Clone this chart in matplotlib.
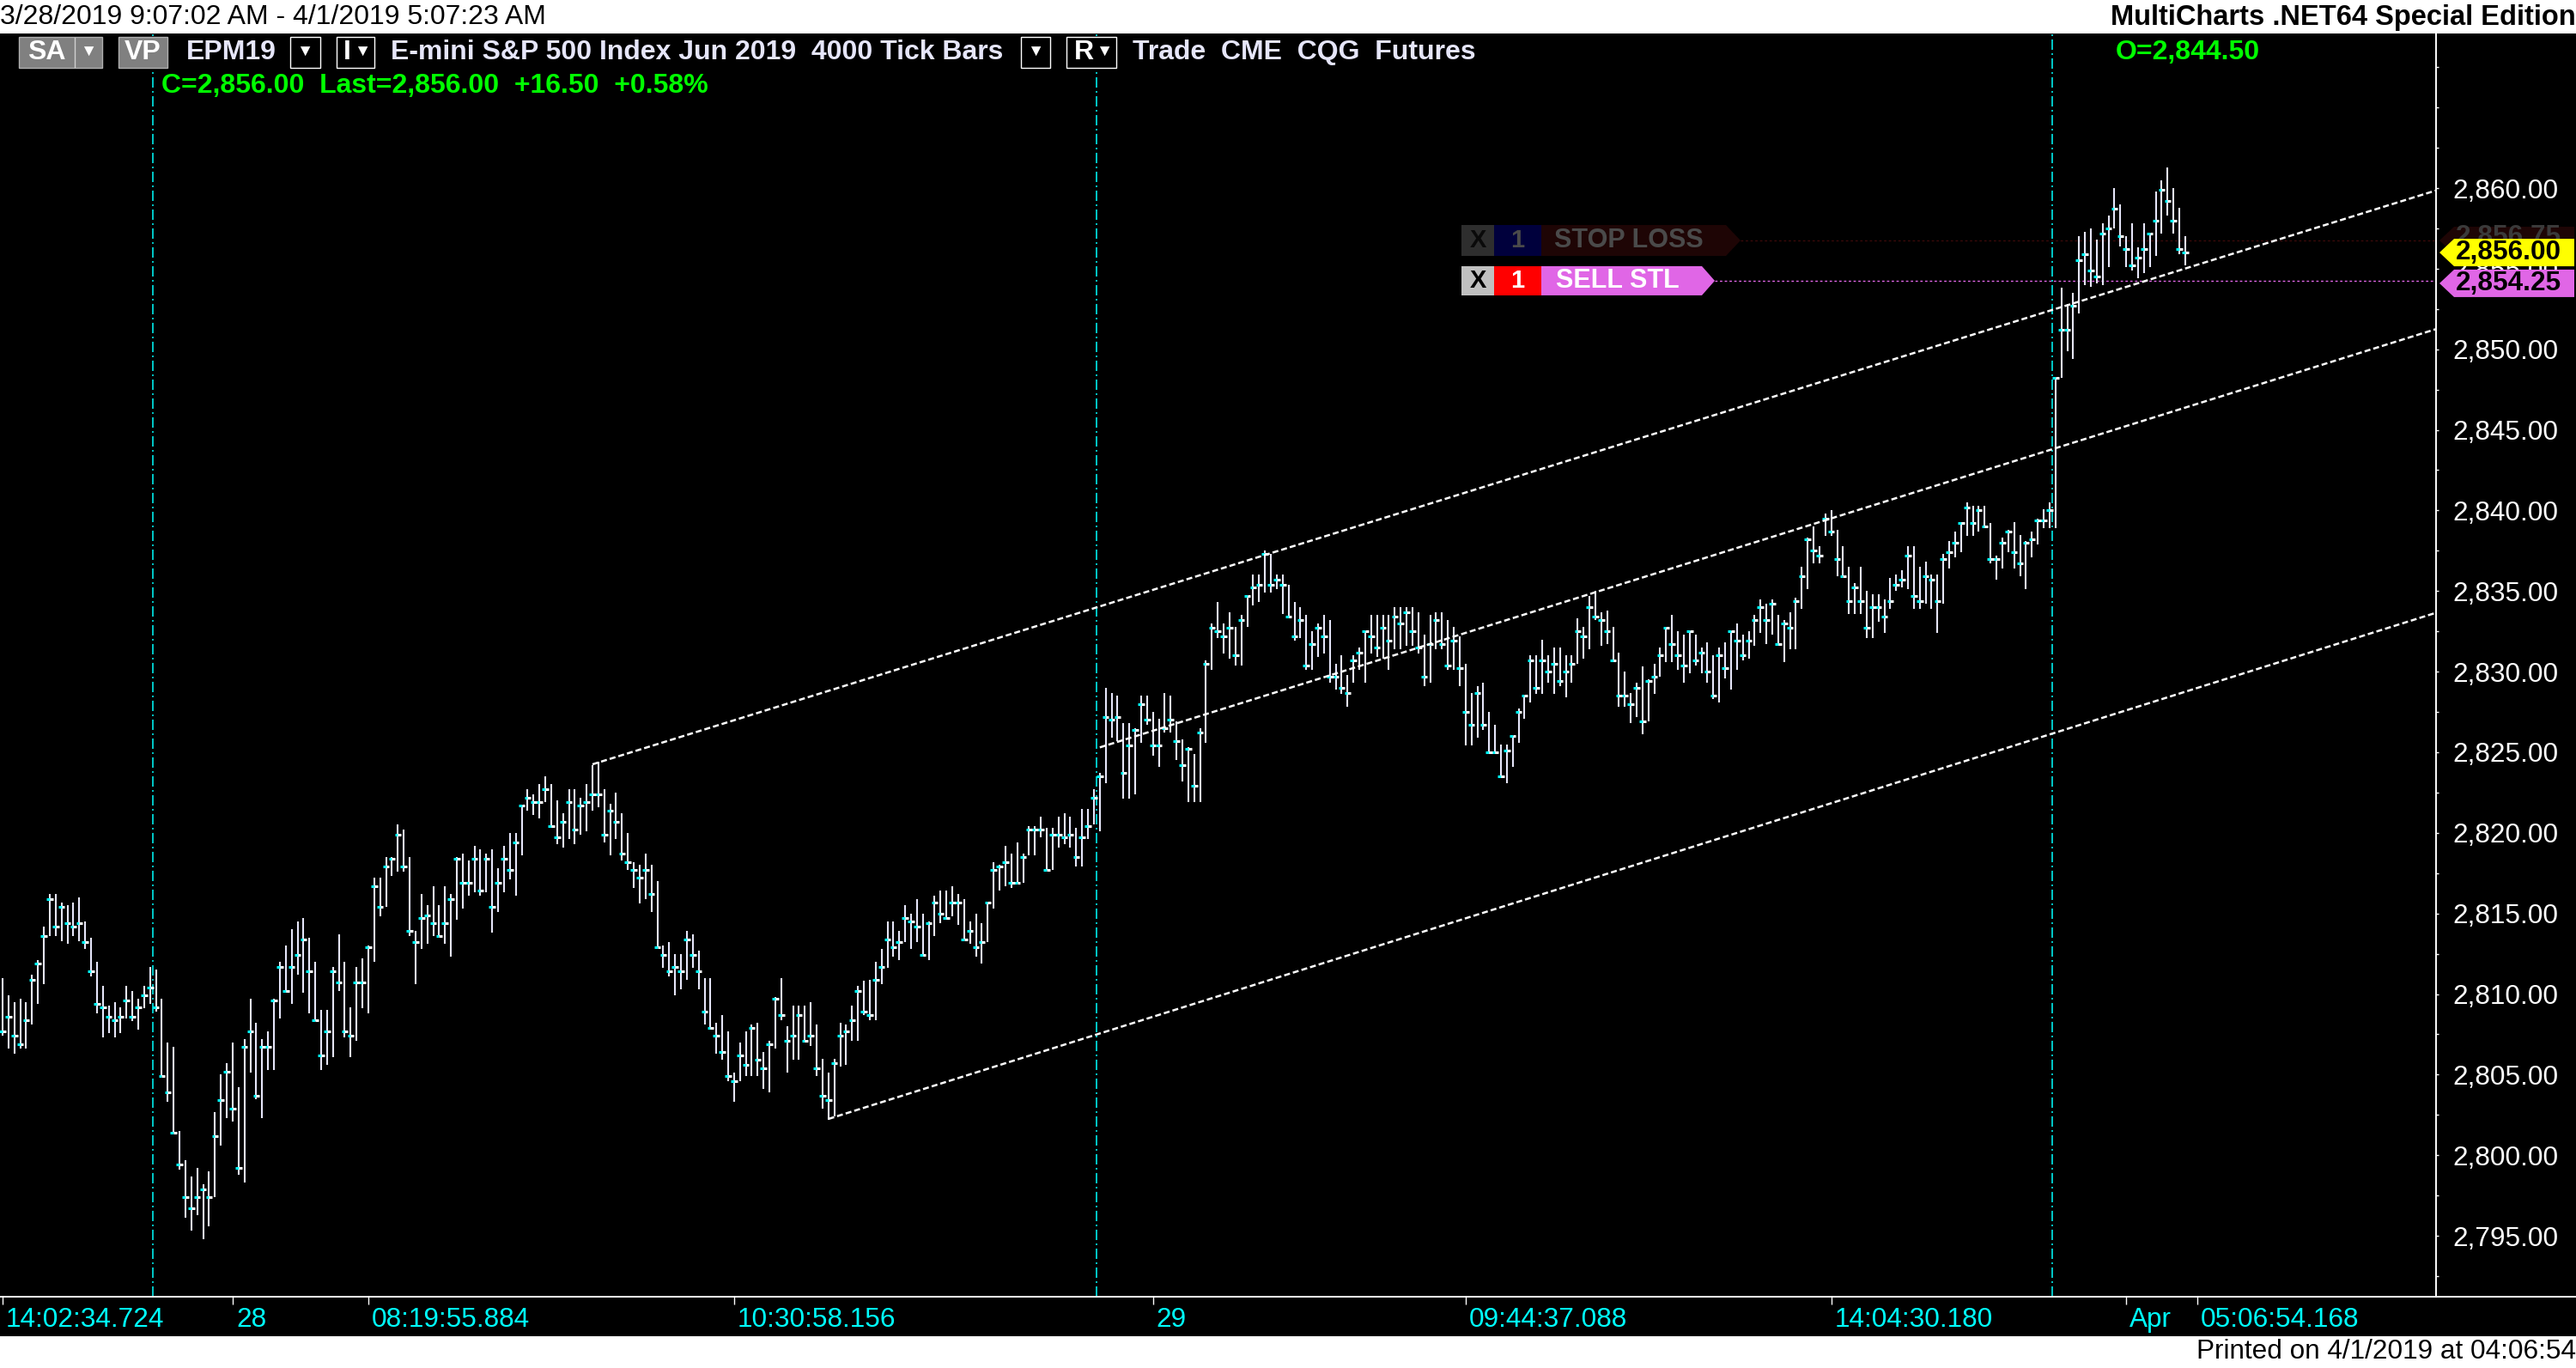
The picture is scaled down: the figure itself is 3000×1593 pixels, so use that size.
import numpy as np
import matplotlib
matplotlib.use("Agg")
import matplotlib.pyplot as plt
import matplotlib.transforms as mtransforms
from matplotlib.patches import Polygon, Rectangle
from matplotlib.lines import Line2D
from matplotlib.ticker import MultipleLocator, FixedLocator, FuncFormatter

# ---- EPM19, 4000 tick bars (high / low / close) ----
highs = [
    2811.0, 2809.9, 2809.5, 2809.7, 2809.5, 2811.2, 2812.1, 2814.2, 2816.2, 2816.2,
    2815.7, 2815.5, 2815.7, 2816.0, 2814.5, 2813.5, 2812.0, 2810.5, 2809.3, 2809.5,
    2809.2, 2810.5, 2810.2, 2809.7, 2810.5, 2811.7, 2811.5, 2809.7, 2807.0, 2806.7,
    2801.5, 2799.7, 2798.7, 2799.2, 2798.2, 2799.0, 2802.7, 2805.0, 2805.7, 2807.0,
    2804.2, 2807.2, 2809.7, 2808.2, 2807.2, 2807.7, 2809.7, 2812.0, 2813.0, 2814.0,
    2814.5, 2814.7, 2813.5, 2812.0, 2809.0, 2809.0, 2811.7, 2813.7, 2812.0, 2809.2,
    2811.7, 2812.2, 2813.0, 2817.2, 2817.2, 2818.5, 2818.5, 2820.5, 2820.2, 2818.5,
    2813.9, 2816.2, 2815.5, 2816.7, 2815.5, 2816.7, 2816.2, 2818.5, 2818.7, 2818.3,
    2819.2, 2819.0, 2818.7, 2819.0, 2817.8, 2819.2, 2820.0, 2820.0, 2821.7, 2822.7,
    2822.4, 2823.0, 2823.5, 2823.0, 2822.0, 2821.2, 2822.7, 2822.7, 2822.2, 2823.0,
    2824.2, 2824.4, 2822.7, 2821.8, 2822.5, 2821.2, 2820.0, 2818.2, 2818.0, 2818.7,
    2818.0, 2817.0, 2813.0, 2813.2, 2812.5, 2812.5, 2813.9, 2813.7, 2812.7, 2811.0,
    2811.0, 2808.2, 2808.7, 2807.7, 2805.1, 2807.0, 2807.7, 2808.1, 2808.2, 2806.4,
    2807.1, 2809.8, 2811.0, 2808.0, 2809.3, 2809.3, 2809.3, 2809.5, 2808.1, 2806.0,
    2805.1, 2806.0, 2808.2, 2808.1, 2809.3, 2810.5, 2810.8, 2810.9, 2812.0, 2812.8,
    2814.5, 2814.5, 2813.9, 2815.5, 2815.0, 2815.9, 2815.0, 2814.5, 2816.1, 2816.4,
    2816.4, 2816.7, 2816.2, 2815.9, 2814.5, 2815.0, 2814.4, 2815.7, 2818.2, 2818.0,
    2819.2, 2818.7, 2819.4, 2818.7, 2820.4, 2820.4, 2821.0, 2820.3, 2820.3, 2821.0,
    2821.2, 2821.0, 2820.3, 2821.5, 2821.5, 2822.7, 2823.7, 2829.0, 2828.7, 2828.5,
    2826.8, 2826.8, 2826.5, 2828.5, 2828.5, 2827.5, 2827.1, 2828.7, 2828.5, 2826.9,
    2825.8, 2825.3, 2824.9, 2826.5, 2830.7, 2833.0, 2834.3, 2833.0, 2833.7, 2832.8,
    2833.5, 2834.7, 2836.0, 2836.0, 2837.5, 2837.3, 2836.0, 2836.0, 2835.4, 2834.3,
    2834.0, 2833.5, 2832.5, 2833.0, 2833.5, 2833.2, 2830.5, 2831.0, 2829.8, 2831.0,
    2831.5, 2832.5, 2833.5, 2833.5, 2833.5, 2833.5, 2834.0, 2834.0, 2834.0, 2834.0,
    2833.7, 2832.3, 2833.5, 2833.7, 2833.7, 2833.2, 2832.8, 2832.2, 2830.5, 2828.7,
    2829.1, 2829.3, 2827.5, 2826.7, 2825.5, 2825.5, 2826.0, 2827.7, 2828.5, 2831.0,
    2831.0, 2832.0, 2831.0, 2831.5, 2831.5, 2831.0, 2831.0, 2833.3, 2832.8, 2834.7,
    2835.0, 2833.7, 2833.8, 2832.8, 2831.2, 2830.0, 2828.7, 2829.3, 2830.3, 2829.5,
    2830.5, 2831.5, 2832.7, 2833.5, 2832.5, 2832.3, 2832.5, 2832.3, 2831.5, 2831.8,
    2831.0, 2831.5, 2831.8, 2832.5, 2833.0, 2832.3, 2832.5, 2833.5, 2834.5, 2834.2,
    2834.5, 2833.5, 2833.2, 2833.7, 2834.6, 2836.5, 2838.3, 2839.0, 2837.8, 2839.8,
    2840.0, 2838.8, 2837.8, 2836.5, 2835.5, 2836.5, 2835.0, 2834.8, 2834.8, 2834.5,
    2835.8, 2836.0, 2836.3, 2837.8, 2837.8, 2836.5, 2836.8, 2836.0, 2836.0, 2837.3,
    2838.1, 2838.7, 2839.3, 2840.5, 2840.3, 2840.3, 2840.3, 2839.2, 2837.2, 2838.3,
    2838.8, 2839.3, 2838.5, 2838.1, 2838.7, 2839.5, 2840.1, 2840.5, 2848.2, 2853.8,
    2852.8, 2853.5, 2857.0, 2857.3, 2857.5, 2856.8, 2857.8, 2858.3, 2860.0, 2859.0,
    2857.0, 2857.8, 2856.3, 2857.8, 2857.2, 2859.8, 2860.5, 2861.3, 2860.0, 2858.8,
    2857.0,
]
lows = [
    2807.4, 2806.6, 2806.3, 2806.6, 2806.6, 2808.1, 2809.4, 2810.6, 2813.6, 2813.6,
    2813.3, 2813.1, 2813.6, 2813.3, 2812.8, 2811.1, 2808.8, 2807.3, 2807.6, 2807.3,
    2807.6, 2808.5, 2808.3, 2807.8, 2809.1, 2809.4, 2808.9, 2804.9, 2803.3, 2801.4,
    2799.1, 2796.1, 2795.3, 2796.3, 2794.8, 2795.6, 2797.4, 2800.6, 2802.3, 2802.1,
    2798.8, 2798.3, 2805.1, 2803.5, 2802.3, 2805.3, 2805.3, 2808.5, 2810.1, 2809.4,
    2811.2, 2810.1, 2808.8, 2808.3, 2805.3, 2805.6, 2806.1, 2810.2, 2807.3, 2806.1,
    2807.1, 2809.1, 2808.8, 2812.0, 2814.8, 2815.4, 2817.3, 2817.6, 2817.6, 2813.6,
    2810.6, 2812.8, 2813.1, 2813.6, 2813.6, 2813.1, 2812.3, 2814.6, 2815.3, 2816.1,
    2816.3, 2816.1, 2816.3, 2813.8, 2815.1, 2816.3, 2817.1, 2816.1, 2818.6, 2821.4,
    2821.1, 2820.9, 2821.9, 2820.3, 2819.3, 2819.1, 2819.6, 2819.3, 2819.9, 2820.1,
    2821.4, 2821.6, 2819.4, 2818.6, 2819.6, 2818.3, 2817.7, 2816.6, 2815.6, 2815.9,
    2815.1, 2812.9, 2811.6, 2811.1, 2809.9, 2810.3, 2810.9, 2811.6, 2810.3, 2808.1,
    2807.8, 2806.3, 2805.9, 2804.6, 2803.3, 2804.6, 2804.9, 2804.9, 2804.9, 2804.1,
    2803.9, 2806.6, 2808.4, 2805.1, 2805.9, 2805.9, 2807.0, 2806.8, 2804.9, 2802.9,
    2802.2, 2802.4, 2805.5, 2805.6, 2807.1, 2807.1, 2808.7, 2808.4, 2808.4, 2810.6,
    2811.6, 2812.3, 2812.1, 2813.2, 2812.8, 2813.2, 2812.3, 2812.1, 2813.6, 2814.4,
    2814.6, 2814.8, 2814.3, 2813.4, 2813.1, 2812.3, 2811.9, 2813.2, 2815.3, 2816.4,
    2816.7, 2816.6, 2816.9, 2816.9, 2818.6, 2818.6, 2819.7, 2817.7, 2817.7, 2819.1,
    2819.3, 2819.1, 2817.9, 2817.9, 2819.6, 2820.5, 2820.1, 2823.1, 2825.9, 2825.7,
    2822.1, 2822.1, 2822.4, 2825.6, 2826.7, 2824.8, 2824.1, 2826.2, 2826.2, 2824.5,
    2823.2, 2821.9, 2821.9, 2821.9, 2825.6, 2830.1, 2832.1, 2831.1, 2830.8, 2830.4,
    2830.4, 2832.8, 2834.1, 2834.3, 2834.9, 2834.9, 2835.1, 2833.6, 2833.3, 2831.9,
    2832.1, 2830.1, 2830.1, 2830.9, 2831.1, 2829.3, 2828.9, 2828.6, 2827.8, 2829.3,
    2830.1, 2829.3, 2831.1, 2830.9, 2830.8, 2830.1, 2831.4, 2831.4, 2831.6, 2831.6,
    2831.1, 2829.1, 2829.3, 2831.4, 2831.4, 2830.1, 2830.1, 2829.1, 2825.4, 2825.4,
    2825.9, 2826.4, 2824.9, 2824.9, 2823.4, 2823.1, 2824.1, 2825.6, 2827.1, 2828.1,
    2828.6, 2828.6, 2829.3, 2828.6, 2829.1, 2828.4, 2829.3, 2830.5, 2830.8, 2831.4,
    2833.2, 2831.6, 2831.7, 2830.6, 2827.8, 2827.8, 2826.8, 2827.2, 2826.1, 2826.9,
    2828.6, 2829.7, 2830.6, 2830.6, 2830.1, 2829.3, 2829.9, 2830.4, 2829.9, 2829.3,
    2828.3, 2828.1, 2829.6, 2828.9, 2830.1, 2830.7, 2830.8, 2831.6, 2832.4, 2831.7,
    2832.3, 2831.6, 2830.6, 2831.4, 2831.4, 2833.9, 2835.1, 2836.7, 2836.7, 2838.4,
    2838.4, 2835.9, 2835.9, 2833.6, 2833.6, 2833.6, 2832.1, 2832.1, 2833.1, 2832.4,
    2833.9, 2835.0, 2835.2, 2835.1, 2833.9, 2833.9, 2834.2, 2833.9, 2832.4, 2834.2,
    2836.4, 2837.1, 2837.4, 2838.4, 2838.4, 2838.7, 2838.9, 2836.7, 2835.7, 2836.4,
    2837.4, 2836.4, 2835.9, 2835.1, 2837.1, 2837.9, 2838.9, 2838.9, 2838.9, 2848.2,
    2849.9, 2849.4, 2852.2, 2854.0, 2853.9, 2854.1, 2854.0, 2855.1, 2857.5, 2856.4,
    2855.1, 2854.9, 2854.4, 2854.7, 2855.1, 2855.8, 2857.2, 2858.3, 2857.2, 2855.9,
    2855.2,
]
closes = [
    2807.7, 2808.6, 2807.4, 2806.9, 2808.4, 2810.9, 2811.9, 2813.6, 2815.9, 2814.2,
    2815.4, 2814.4, 2814.2, 2814.4, 2813.2, 2811.4, 2809.4, 2809.2, 2808.6, 2808.4,
    2808.6, 2809.6, 2808.6, 2809.2, 2809.9, 2810.4, 2809.2, 2804.9, 2803.9, 2801.4,
    2799.4, 2797.4, 2796.7, 2797.4, 2797.9, 2797.4, 2801.2, 2803.4, 2805.2, 2802.9,
    2799.2, 2806.7, 2807.7, 2803.7, 2806.7, 2806.7, 2809.6, 2811.7, 2810.2, 2811.7,
    2812.4, 2813.4, 2811.4, 2808.4, 2806.2, 2807.7, 2811.4, 2810.7, 2807.7, 2807.4,
    2810.7, 2810.7, 2812.9, 2816.7, 2815.4, 2817.9, 2818.4, 2819.9, 2817.9, 2813.9,
    2813.2, 2814.7, 2814.9, 2814.4, 2813.6, 2814.4, 2815.9, 2818.4, 2816.9, 2816.9,
    2818.4, 2816.4, 2818.4, 2815.4, 2816.9, 2818.4, 2817.7, 2819.4, 2821.7, 2822.2,
    2821.9, 2821.9, 2822.7, 2820.4, 2819.7, 2820.7, 2821.9, 2820.2, 2821.7, 2821.9,
    2822.4, 2822.4, 2819.9, 2821.4, 2820.7, 2818.7, 2818.2, 2817.7, 2817.2, 2817.7,
    2816.2, 2812.9, 2812.4, 2811.4, 2811.7, 2811.4, 2813.4, 2812.4, 2811.4, 2808.9,
    2807.9, 2807.4, 2806.4, 2804.9, 2804.6, 2806.2, 2805.6, 2807.9, 2805.9, 2805.4,
    2806.9, 2809.7, 2808.7, 2807.1, 2807.4, 2808.7, 2807.1, 2807.4, 2805.4, 2803.7,
    2803.4, 2805.7, 2807.4, 2807.7, 2808.4, 2810.2, 2808.9, 2808.7, 2810.9, 2811.7,
    2813.4, 2812.9, 2813.2, 2814.7, 2814.5, 2814.2, 2812.4, 2814.4, 2815.7, 2815.0,
    2814.7, 2815.7, 2815.7, 2813.4, 2813.9, 2812.9, 2813.2, 2815.7, 2817.7, 2817.9,
    2818.2, 2816.9, 2816.9, 2818.5, 2820.2, 2820.2, 2820.2, 2817.7, 2819.9, 2819.9,
    2819.7, 2819.9, 2818.5, 2819.7, 2820.4, 2822.2, 2823.5, 2827.2, 2827.0, 2827.2,
    2823.7, 2825.4, 2826.4, 2828.0, 2827.0, 2825.4, 2825.4, 2826.5, 2827.0, 2825.7,
    2824.2, 2825.2, 2822.9, 2826.2, 2830.5, 2832.7, 2832.5, 2832.2, 2832.7, 2831.0,
    2833.2, 2834.7, 2835.2, 2835.4, 2837.3, 2835.4, 2835.7, 2835.4, 2833.4, 2832.2,
    2833.2, 2830.4, 2831.7, 2832.7, 2832.2, 2829.7, 2829.7, 2829.0, 2828.7, 2830.7,
    2831.2, 2832.5, 2832.2, 2831.5, 2832.7, 2831.9, 2833.4, 2833.0, 2833.7, 2832.5,
    2831.5, 2829.7, 2831.7, 2833.2, 2831.7, 2830.4, 2831.9, 2830.2, 2827.5, 2826.7,
    2828.7, 2826.7, 2825.0, 2825.0, 2823.5, 2825.1, 2826.0, 2827.5, 2828.5, 2830.7,
    2829.0, 2830.7, 2830.0, 2830.5, 2829.4, 2830.0, 2830.5, 2832.5, 2832.2, 2834.0,
    2833.4, 2833.2, 2832.5, 2830.7, 2828.5, 2828.5, 2828.0, 2829.0, 2826.9, 2829.4,
    2829.7, 2831.0, 2832.7, 2831.7, 2831.0, 2830.4, 2832.5, 2830.7, 2831.2, 2830.0,
    2828.5, 2831.0, 2830.2, 2832.5, 2831.9, 2831.0, 2831.9, 2833.2, 2834.0, 2833.2,
    2834.2, 2831.7, 2833.0, 2832.7, 2834.4, 2835.9, 2838.2, 2837.5, 2837.2, 2839.5,
    2838.7, 2837.0, 2835.9, 2834.4, 2835.2, 2834.4, 2832.7, 2834.0, 2834.0, 2833.4,
    2834.4, 2835.4, 2835.7, 2837.2, 2834.7, 2834.4, 2835.9, 2835.7, 2834.4, 2837.0,
    2837.4, 2838.0, 2839.2, 2840.2, 2839.2, 2840.0, 2839.0, 2837.0, 2837.0, 2838.0,
    2838.7, 2837.4, 2836.7, 2838.0, 2838.2, 2839.4, 2839.4, 2840.0, 2848.2, 2851.2,
    2851.2, 2852.7, 2855.5, 2855.9, 2854.9, 2854.5, 2857.2, 2857.5, 2858.7, 2857.0,
    2856.2, 2855.2, 2855.7, 2856.2, 2857.2, 2858.0, 2859.9, 2859.2, 2858.0, 2856.2,
    2856.0,
]

# first bar of each new session (bar index)
session_starts = [26, 186, 348]

# time axis labels (bar index, text)
time_ticks = [0, 39, 62, 124, 195, 248, 310, 360, 372]
time_labels = ["14:02:34.724", "28", "08:19:55.884", "10:30:58.156", "29",
               "09:44:37.088", "14:04:30.180", "Apr", "05:06:54.168"]

# price scale labels
price_labels = list(range(2795, 2861, 5))

# drawn trend channel: (start bar, start price, end bar, end price)
channel_lines = [
    (100, 2824.25, 412.5, 2859.85),
    (186, 2825.30, 412.5, 2851.25),
    (140, 2802.25, 412.5, 2833.65),
]

last_price = 2856.00
stop_loss_price = 2856.75
sell_stl_price = 2854.25

# ---------------------------------------------------------------
W, H = 3000, 1593
plt.rcParams["font.family"] = ["Liberation Sans", "DejaVu Sans"]
fig = plt.figure(figsize=(W / 100, H / 100), dpi=100, facecolor="black")

CYAN = "#00FFFF"
BAR = "#E6E6FA"
GREEN = "#00FF00"
VIOLET = "#E066E6"
FS = 22.7
HFS = 23


def fp(x, y):
    # pixel (from top-left) -> figure fraction
    return (x / W, 1 - y / H)


plot_top, plot_bottom, plot_right = 39, 1510, 2837
bar_step, bar_x0 = 6.87, 3
ax = fig.add_axes([0, 1 - plot_bottom / H, plot_right / W, (plot_bottom - plot_top) / H])
ax.set_facecolor("black")
ax.set_xlim(-bar_x0 / bar_step, (plot_right - bar_x0) / bar_step)
ax.set_ylim(2791.22, 2869.59)

x = np.arange(len(closes))
hi = np.array(highs)
lo = np.array(lows)
cl = np.array(closes)

ax.vlines(x, lo, hi, colors=BAR, lw=1.5, zorder=3)
ax.hlines(cl, x - 0.55, x, colors=CYAN, lw=2.2, zorder=4)
ax.hlines(cl, x, x + 0.55, colors="white", lw=2.2, zorder=4)

for s in session_starts:
    ax.axvline(s - 0.5, color=CYAN, lw=1.1, ls=(0, (7.9, 2.6, 1.3, 2.6)), zorder=2)

for x0, p0, x1, p1 in channel_lines:
    ax.plot([x0, x1], [p0, p1], color="white", lw=1.8, ls=(0, (2.8, 1.4)),
            zorder=5, solid_capstyle="butt")

# axes styling
for side in ["top", "left", "bottom"]:
    ax.spines[side].set_visible(False)
ax.spines["right"].set_color("white")
ax.spines["right"].set_linewidth(1.4)

ax.yaxis.tick_right()
ax.yaxis.set_major_locator(FixedLocator(price_labels))
ax.yaxis.set_minor_locator(MultipleLocator(2.5))
ax.yaxis.set_major_formatter(FuncFormatter(lambda v, _: f"{v:,.2f}"))
ax.tick_params(axis="y", which="both", colors="white", length=2.4, width=1, direction="out")
ax.tick_params(axis="y", which="major", labelsize=FS, pad=11.5)
ax.set_xticks(time_ticks)
ax.set_xticklabels([])
ax.tick_params(axis="x", colors="white", length=6.5, width=1, direction="out")

trans = mtransforms.blended_transform_factory(ax.transData, ax.transAxes)
for t, lab in zip(time_ticks, time_labels):
    ax.annotate(lab, xy=(t, 0), xycoords=trans, xytext=(4, -27), textcoords="offset pixels",
                ha="left", va="center", color=CYAN, fontsize=FS, annotation_clip=False)

fig.add_artist(Line2D([0, 1], [1 - plot_bottom / H] * 2, color="white", lw=1.4,
                      transform=fig.transFigure, zorder=4))

# white title / footer strips
fig.add_artist(Rectangle(fp(0, plot_top), 1, plot_top / H, transform=fig.transFigure,
                         fc="white", ec="none", zorder=1))
fig.add_artist(Rectangle((0, 0), 1, 37 / H, transform=fig.transFigure,
                         fc="white", ec="none", zorder=1))
fig.text(*fp(0, 20), "3/28/2019 9:07:02 AM - 4/1/2019 5:07:23 AM", ha="left", va="center",
         fontsize=23, color="black")
fig.text(*fp(W, 20), "MultiCharts .NET64 Special Edition", ha="right", va="center",
         fontsize=23.5, color="black", fontweight="bold")
fig.text(*fp(W, 1574), "Printed on 4/1/2019 at 04:06:54", ha="right", va="center",
         fontsize=FS, color="black")


def shape(x0, x1, y0, y1, fc, ec="none", tip=None, z=6):
    ym = (y0 + y1) / 2
    if tip is None:
        pts = [(x0, y0), (x1, y0), (x1, y1), (x0, y1)]
    elif tip > x1:
        pts = [(x0, y0), (x1, y0), (tip, ym), (x1, y1), (x0, y1)]
    else:
        pts = [(x0, y0), (x1, y0), (x1, y1), (x0, y1), (tip, ym)]
    fig.add_artist(Polygon([fp(a, b) for a, b in pts], closed=True, transform=fig.transFigure,
                           fc=fc, ec=ec, lw=1, zorder=z))


def label(xc, yc, s, color, size=FS, weight="bold", ha="center", z=7):
    fig.text(*fp(xc, yc), s, ha=ha, va="center", fontsize=size, color=color,
             fontweight=weight, zorder=z)


# header row
hy = 61
shape(22, 119, 43, 79, "#808080", ec="#B0B0B0")
fig.add_artist(Line2D([87 / W] * 2, [1 - 44 / H, 1 - 78 / H], color="#D0D0D0", lw=1,
                      transform=fig.transFigure, zorder=7))
label(54, hy, "SA", "white", size=HFS)
label(103, hy, "▼", "white", size=14)
shape(138, 195, 43, 79, "#808080", ec="#B0B0B0")
label(166, hy, "VP", "white", size=HFS)
label(217, hy, "EPM19", BAR, size=HFS, ha="left")
shape(338, 373, 43, 79, "black", ec="white")
label(355, hy, "▼", "white", size=14)
shape(392, 436, 43, 79, "black", ec="white")
label(404, hy, "I", "white", size=HFS)
label(422, hy, "▼", "white", size=14)
label(455, hy, "E-mini S&P 500 Index Jun 2019  4000 Tick Bars", BAR, size=HFS, ha="left")
shape(1189, 1223, 43, 79, "black", ec="white")
label(1206, hy, "▼", "white", size=14)
shape(1242, 1300, 43, 79, "black", ec="white")
label(1262, hy, "R", "white", size=HFS)
label(1286, hy, "▼", "white", size=14)
label(1319, hy, "Trade  CME  CQG  Futures", BAR, size=HFS, ha="left")
label(2464, hy, "O=2,844.50", GREEN, size=HFS, ha="left")
label(188, 100, "C=2,856.00  Last=2,856.00  +16.50  +0.58%", GREEN, size=HFS, ha="left")


def level_y(p):
    return H - ax.transData.transform((0, p))[1]


# order tags on the chart
ys = level_y(stop_loss_price)
shape(1702, 1740, ys - 18, ys + 18, "#2E2E2E")
shape(1740, 1795, ys - 18, ys + 18, "#00003C")
shape(1795, 2010, ys - 18, ys + 18, "#1E0505", tip=2027)
label(1721, ys, "X", "#0A0A0A", size=21)
label(1767, ys, "1", "#4A4A4A", size=21)
label(1897, ys, "STOP LOSS", "#4A4A4A", size=22)
ax.plot([(2027 - bar_x0) / bar_step, ax.get_xlim()[1]], [stop_loss_price] * 2,
        color="#3A0A0A", lw=1, ls=(0, (2, 2)), zorder=1)

yv = level_y(sell_stl_price)
shape(1702, 1740, yv - 17, yv + 17, "#C0C0C0")
shape(1740, 1795, yv - 17, yv + 17, "#FF0000")
shape(1795, 1982, yv - 17, yv + 17, VIOLET, tip=1997)
label(1721, yv, "X", "black", size=21)
label(1767, yv, "1", "white", size=21)
label(1884, yv, "SELL STL", "white", size=22)
ax.plot([(1997 - bar_x0) / bar_step, ax.get_xlim()[1]], [sell_stl_price] * 2,
        color=VIOLET, lw=1, ls=(0, (2, 2)), zorder=1)

# price markers on the right scale (the stop marker sits partly behind the last-price one)
yl = level_y(last_price)
shape(2858, 2998, ys - 16, ys + 16, "#1E0505", tip=2841)
label(2860, ys - 4, f"{stop_loss_price:,.2f}", "#3A3A3A", size=FS, ha="left")
shape(2858, 2998, yl - 16, yl + 16, "#FFFF00", tip=2841, z=8)
label(2860, yl, f"{last_price:,.2f}", "black", size=FS, ha="left", z=9)
shape(2858, 2998, yv - 13, yv + 19, VIOLET, tip=2841, z=8)
label(2860, yv + 3, f"{sell_stl_price:,.2f}", "black", size=FS, ha="left", z=9)

fig.savefig("out.png", dpi=100, facecolor="black")
